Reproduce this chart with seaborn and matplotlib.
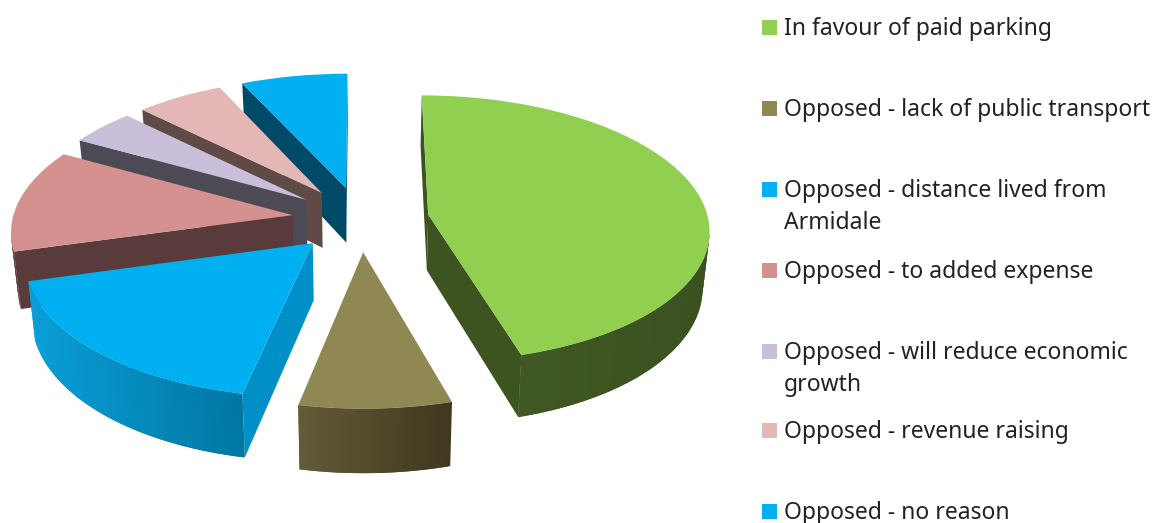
import numpy as np
import matplotlib
matplotlib.use("Agg")
import matplotlib.pyplot as plt
from matplotlib.colors import to_rgb
from matplotlib.patches import Rectangle
from matplotlib.transforms import Transform
import seaborn as sns

# Survey responses, percent of respondents
categories = [
    "In favour of paid parking",
    "Opposed - lack of public transport",
    "Opposed - distance lived from\nArmidale",
    "Opposed - to added expense",
    "Opposed - will reduce economic\ngrowth",
    "Opposed - revenue raising",
    "Opposed - no reason",
]
shares = [45.5, 7.7, 17.4, 12.4, 4.3, 5.7, 6.9]

top_colors = ["#90cf50", "#908853", "#00b0f0", "#d59190", "#c9bfd9", "#e4b6b5", "#00b0f0"]
cut_colors = ["#3d5420", "#5d5433", "#008fc6", "#5a3b3b", "#4e4a55", "#5f4a47", "#004a68"]
rim_left = ["#405823", "#635a36", "#0a9ed8", "#5a3b3b", "#4e4a55", "#5f4a47", "#004a68"]
rim_right = ["#3b5120", "#40381f", "#0077a3", "#5a3b3b", "#4e4a55", "#5f4a47", "#004a68"]

legend_baselines = [35, 116, 197, 278, 359, 438, 519]

EXPLODE = 0.245
CX, CY, RX, RY, PERSP = 360.5, 219.0, 280.0, 132.5, 0.105
DEPTH, BASE_SHRINK = 56.0, 0.98


def project(x, y, lower=False):
    """Map pie-plane coordinates to canvas pixels with a tilted perspective view."""
    x, y = np.asarray(x, float), np.asarray(y, float)
    v = -y
    s = 1.0 / (1.0 - PERSP * v)
    px = RX * x * s
    py = CY + RY * v * s
    if lower:
        return CX + px * BASE_SHRINK, py + DEPTH * s
    return CX + px, py


class TiltedPlane(Transform):
    input_dims = 2
    output_dims = 2
    is_affine = False

    def transform_non_affine(self, values):
        values = np.asarray(values, float)
        return np.column_stack(project(values[:, 0], values[:, 1]))


def mix(c0, c1, t):
    a, b = np.array(to_rgb(c0)), np.array(to_rgb(c1))
    return tuple(a + (b - a) * t)


sns.set_theme(style="white")
plt.rcParams["font.family"] = ["Noto Sans", "DejaVu Sans"]

fig = plt.figure(figsize=(11.54, 5.23), dpi=100)
ax = fig.add_axes([0, 0, 1, 1])

palette = sns.color_palette(top_colors)
wedges, _ = ax.pie(
    shares,
    explode=[EXPLODE] * len(shares),
    colors=palette,
    startangle=90,
    counterclock=False,
    normalize=True,
)
ax.set_aspect("auto")
ax.set_xlim(0, 1154)
ax.set_ylim(523, 0)
ax.axis("off")

plane = TiltedPlane() + ax.transData

# Slices further back are painted first so nearer ones overlap them
apex_rows = [project(*w.center)[1] for w in wedges]
for order, idx in enumerate(np.argsort(apex_rows)):
    w = wedges[idx]
    ux, uy = w.center
    angles = np.radians(np.linspace(w.theta2, w.theta1, 80))
    xs = np.r_[ux, ux + np.cos(angles), ux]
    ys = np.r_[uy, uy + np.sin(angles), uy]
    top_x, top_y = project(xs, ys)
    low_x, low_y = project(xs, ys, lower=True)
    base_z = 10 + order * 2

    rim = np.arange(1, len(xs) - 2)
    rim_visible = rim[top_x[rim + 1] < top_x[rim]]
    x_hi = top_x[rim_visible].max() if len(rim_visible) else 0
    x_lo = top_x[rim_visible].min() if len(rim_visible) else 0
    last_rim = rim_visible.max() if len(rim_visible) else 0

    # Walls run right to left; each rim strip laps over the next so no seams show
    for k in range(len(xs) - 1):
        if top_x[k + 1] >= top_x[k]:
            continue  # this wall faces away from the viewer
        if k == 0 or k == len(xs) - 2:
            color, end = cut_colors[idx], k + 1
        else:
            t = (x_hi - top_x[k]) / max(x_hi - x_lo, 1.0)
            color = mix(rim_right[idx], rim_left[idx], t)
            end = min(k + 2, last_rim + 1)
        strip = np.r_[k:end + 1]
        ax.fill(
            np.r_[top_x[strip], low_x[strip][::-1]],
            np.r_[top_y[strip], low_y[strip][::-1]],
            facecolor=color, edgecolor="none", linewidth=0, zorder=base_z,
        )

    w.set_transform(plane)
    w.set_zorder(base_z + 1)
    w.set_linewidth(0)
    w.set_clip_on(False)

# Key on the right-hand side
for label, color, base in zip(categories, top_colors, legend_baselines):
    ax.add_patch(Rectangle((762, base - 15), 15, 15, facecolor=color, edgecolor="none", zorder=50))
    for n, line in enumerate(label.split("\n")):
        ax.text(784, base + 32 * n, line, fontsize=16.5, color="#222222",
                ha="left", va="baseline", zorder=50)

fig.savefig("out.png", dpi=100, facecolor="white")
